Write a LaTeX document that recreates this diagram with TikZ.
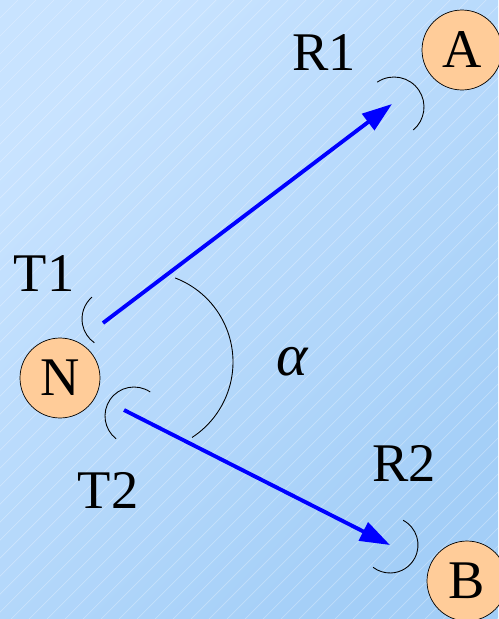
\documentclass[tikz,border=0pt]{standalone}
\usepackage{fontspec}
\setmainfont{Liberation Serif}
\usetikzlibrary{arrows.meta}
\definecolor{skylight}{HTML}{C8E3FF}
\definecolor{skydeep}{HTML}{A3CEF7}
\definecolor{peach}{HTML}{FFCC99}
\begin{document}
\begin{tikzpicture}[x=0.02cm,y=-0.02cm,>=stealth]
  \tikzstyle{station}=[draw, circle, fill=peach, minimum size=1.6cm, inner sep=0pt,
    font=\fontsize{31}{36}\selectfont]
  \tikzstyle{lbl}=[font=\fontsize{31}{36}\selectfont]
  \tikzstyle{beam}=[blue, line width=2.2pt, -{Triangle[length=0.6cm,width=0.4cm]}]
  \tikzstyle{lobe}=[line width=0.5pt]

  \shade[top color=skylight, bottom color=skydeep, shading angle=45] (0,0) rectangle (498,619);
  \begin{scope}
    \clip (0,0) rectangle (498,619);
    \foreach \s in {0,18,...,1130}
      \draw[white, opacity=0.3, line width=0.4pt] (\s-619,619) -- (\s,0);
  \end{scope}
  \useasboundingbox (0,0) rectangle (498,619);

  \node[station] (A) at (462,50) {A};
  \node[station] (N) at (60,378) {N};
  \node[station] (B) at (467,581) {B};

  \node[lbl] (R1) at (324,53) {R1};
  \node[lbl] (T1) at (44,274) {T1};
  \node[lbl] (T2) at (108,490) {T2};
  \node[lbl] (R2) at (404,463) {R2};
  \node[lbl, font=\fontsize{34}{40}\selectfont] (alpha) at (292,362) {\itshape α};

  \coordinate (t1) at (103,323);
  \coordinate (r1) at (392,104);
  \coordinate (t2) at (124,410);
  \coordinate (r2) at (390,545);
  \draw[beam] (t1) -- (r1);
  \draw[beam] (t2) -- (r2);

  \coordinate (lt1) at (111,319);
  \coordinate (lt2) at (134,416);
  \coordinate (lr1) at (394,107);
  \coordinate (lr2) at (390,545);
  \coordinate (la) at (143,362);
  \draw[lobe] ([shift={(131:0.58cm)}]lt1) arc[start angle=131, end angle=235, radius=0.58cm];
  \draw[lobe] ([shift={(56:0.58cm)}]lt2) arc[start angle=56, end angle=232, radius=0.58cm];
  \draw[lobe] ([shift={(124:0.6cm)}]lr1) arc[start angle=124, end angle=-50, radius=0.6cm];
  \draw[lobe] ([shift={(62:0.56cm)}]lr2) arc[start angle=62, end angle=-127, radius=0.56cm];
  \draw[lobe] ([shift={(69:1.8cm)}]la) arc[start angle=69, end angle=-57, radius=1.8cm];
\end{tikzpicture}
\end{document}
